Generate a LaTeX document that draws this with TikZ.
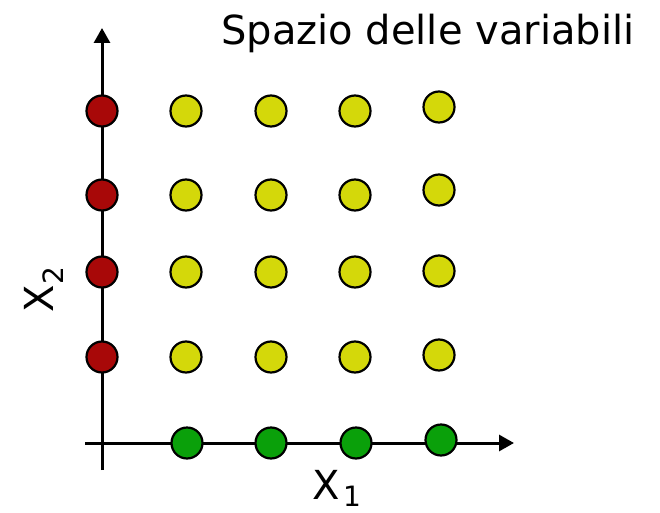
\documentclass[tikz,border=0pt]{standalone}
\usepackage{fontspec}
\setmainfont{DejaVu Sans}
\usetikzlibrary{arrows.meta}
\definecolor{cred}{HTML}{A80808}
\definecolor{cyel}{HTML}{D4D80A}
\definecolor{cgrn}{HTML}{0AA00A}
\tikzset{
  dot/.style={circle,draw=black,line width=2.2pt,minimum size=31pt,inner sep=0pt},
  rdot/.style={dot,fill=cred},
  ydot/.style={dot,fill=cyel},
  gdot/.style={dot,fill=cgrn},
  axis/.style={line width=3pt,-{Triangle[length=15pt,width=16pt]}},
  lbl/.style={font=\fontsize{40}{46}\selectfont,inner sep=0pt},
  sub/.style={font=\fontsize{28}{32}\selectfont,inner sep=0pt}
}
\begin{document}
\begin{tikzpicture}[x=1pt,y=-1pt]
\useasboundingbox (0,0) rectangle (660,513);
\coordinate (vb) at (102,470);
\coordinate (vt) at (102,28);
\coordinate (hl) at (85,443);
\coordinate (hr) at (514,443);
\draw[axis] (vb) -- (vt);
\draw[axis] (hl) -- (hr);
% red
\node[rdot] (r1) at (102,111) {};
\node[rdot] (r2) at (102,195) {};
\node[rdot] (r3) at (102,272) {};
\node[rdot] (r4) at (102,357) {};
% yellow
\node[ydot] (y11) at (186,111) {};
\node[ydot] (y12) at (271,111) {};
\node[ydot] (y13) at (355,111) {};
\node[ydot] (y14) at (439,107) {};
\node[ydot] (y21) at (186,195) {};
\node[ydot] (y22) at (271,195) {};
\node[ydot] (y23) at (355,195) {};
\node[ydot] (y24) at (439,190) {};
\node[ydot] (y31) at (186,272) {};
\node[ydot] (y32) at (271,272) {};
\node[ydot] (y33) at (355,272) {};
\node[ydot] (y34) at (439,271) {};
\node[ydot] (y41) at (186,357) {};
\node[ydot] (y42) at (271,357) {};
\node[ydot] (y43) at (355,357) {};
\node[ydot] (y44) at (439,355) {};
% green
\node[gdot] (g1) at (187,443) {};
\node[gdot] (g2) at (271,443) {};
\node[gdot] (g3) at (356,443) {};
\node[gdot] (g4) at (441,440) {};
% labels
\node[lbl,anchor=base west] (title) at (221,45) {Spazio delle variabili};
\node[lbl,anchor=base west] (x1) at (312,499) {X};
\node[sub,anchor=base west] (x1s) at (343,506) {1};
\node[lbl,anchor=base west,rotate=90] (x2) at (53,313) {X};
\node[sub,anchor=base west,rotate=90] (x2s) at (63,285) {2};
\end{tikzpicture}
\end{document}
